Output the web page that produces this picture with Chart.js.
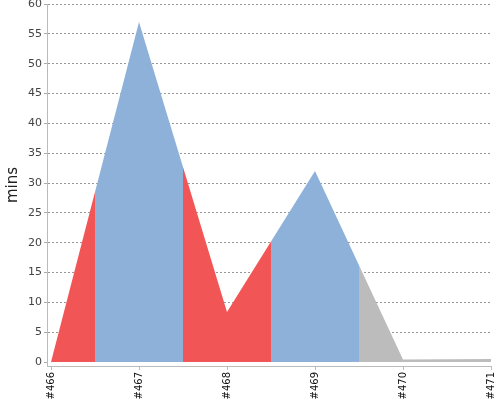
<!DOCTYPE html>
<html>
<head>
<meta charset="utf-8">
<script src="https://cdn.jsdelivr.net/npm/chart.js@4.4.0/dist/chart.umd.min.js"></script>
<style>
  html, body { margin: 0; padding: 0; background: #fff; }
</style>
</head>
<body>
<canvas id="myChart" width="500" height="400"></canvas>
<script>
// build trend, one value per build (duration in minutes)
var builds = ['#466', '#467', '#468', '#469', '#470', '#471'];
var durations = [0, 57, 8.4, 32, 0.4, 0.5];
var results = ['failure', 'success', 'failure', 'success', 'aborted', 'aborted'];
var yTicks = [0, 5, 10, 15, 20, 25, 30, 35, 40, 45, 50, 55, 60];

var resultColors = {
  failure: '#f25555',
  success: '#8eb1da',
  aborted: '#bcbcbc'
};

function clamp(v) {
  return Math.max(0, Math.min(1, v));
}

// each build owns the band from half way to its neighbours
function bandFill(context) {
  var chart = context.chart;
  var area = chart.chartArea;
  if (!area) return resultColors.success;
  var x = chart.scales.x;
  var w = area.right - area.left;
  var g = chart.ctx.createLinearGradient(area.left, 0, area.right, 0);
  for (var i = 0; i < builds.length; i++) {
    var c = resultColors[results[i]];
    var from = i === 0 ? area.left : x.getPixelForValue(i - 0.5);
    var to = i === builds.length - 1 ? area.right : x.getPixelForValue(i + 0.5);
    g.addColorStop(clamp((from - area.left) / w), c);
    g.addColorStop(clamp((to - area.left) / w), c);
  }
  return g;
}

var points = durations.map(function (d, i) {
  return { x: i, y: d };
});

var ctx = document.getElementById('myChart').getContext('2d');
var config = {
  type: 'line',
  data: {
    datasets: [{
      data: points,
      fill: 'origin',
      backgroundColor: bandFill,
      borderColor: 'rgba(0,0,0,0)',
      borderWidth: 0,
      pointRadius: 0,
      pointHoverRadius: 0,
      tension: 0
    }]
  },
  options: {
    responsive: false,
    devicePixelRatio: 1,
    animation: false,
    layout: { padding: { top: 4, right: 9, left: 0, bottom: 0 } },
    plugins: {
      legend: { display: false },
      tooltip: { enabled: false }
    },
    scales: {
      x: {
        type: 'linear',
        min: -0.0455,
        max: 5,
        afterBuildTicks: function (scale) {
          scale.ticks = builds.map(function (b, i) { return { value: i }; });
        },
        afterFit: function (scale) {
          scale.height = 34;
          scale.paddingLeft = 0;
          scale.paddingRight = 0;
        },
        ticks: {
          autoSkip: false,
          minRotation: 90,
          maxRotation: 90,
          padding: 2,
          color: '#111',
          font: { family: 'DejaVu Sans', size: 10 },
          callback: function (value) { return builds[value]; }
        },
        grid: {
          drawOnChartArea: false,
          tickLength: 4,
          color: '#bbb'
        },
        border: { color: '#bbb' }
      },
      y: {
        min: -0.67,
        max: 60,
        z: 1,
        afterBuildTicks: function (scale) {
          scale.ticks = yTicks.map(function (v) { return { value: v }; });
        },
        afterFit: function (scale) {
          scale.width = 47;
          scale.paddingTop = 0;
          scale.paddingBottom = 0;
        },
        ticks: {
          padding: 2,
          color: '#444',
          font: { family: 'DejaVu Sans', size: 11 }
        },
        grid: {
          color: function (c) {
            return c.tick && c.tick.value === 0 ? 'rgba(0,0,0,0)' : '#999';
          },
          tickColor: '#aaa',
          tickLength: 3,
          lineWidth: 1
        },
        border: { color: '#bbb', dash: [2, 2] },
        title: {
          display: true,
          text: 'mins',
          color: '#222',
          padding: { top: 4, bottom: 0 },
          font: { family: 'DejaVu Sans', size: 15 }
        }
      }
    }
  }
};

var chart = new Chart(ctx, config);
</script>
</body>
</html>
